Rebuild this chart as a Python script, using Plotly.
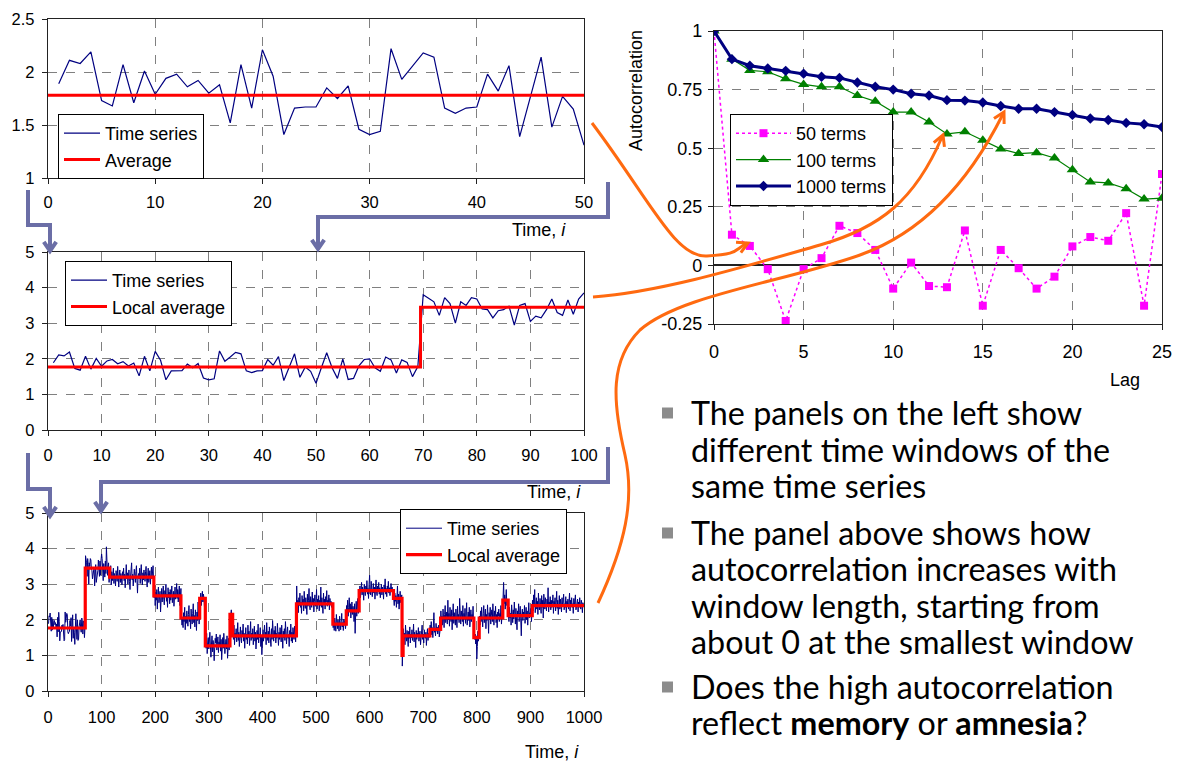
import math
import plotly.graph_objects as go

W, H = 1179, 761

# ---- time series, i = 1 .. 1000 ----
series = [
    1.89, 2.11, 2.08, 2.19, 1.73, 1.68, 2.07, 1.71, 2.01, 1.79,
    1.94, 1.98, 1.86, 1.92, 1.80, 1.88, 1.52, 2.07, 1.66, 2.21,
    1.96, 1.41, 1.66, 1.67, 1.67, 1.85, 1.75, 1.87, 1.46, 1.41,
    1.44, 2.22, 1.93, 2.05, 2.18, 2.14, 1.66, 1.61, 1.66, 1.67,
    1.98, 1.82, 2.06, 1.39, 1.77, 2.14, 1.48, 1.77, 1.65, 1.31,
    1.75, 2.17, 1.75, 1.45, 2.00, 1.42, 1.45, 1.80, 1.98, 2.00,
    1.75, 1.65, 2.05, 1.97, 1.60, 1.97, 1.90, 1.50, 1.78, 3.80,
    3.70, 3.60, 3.22, 3.72, 3.55, 3.00, 3.60, 3.50, 3.72, 3.68,
    3.40, 3.38, 3.15, 3.35, 3.38, 3.48, 2.95, 3.50, 3.55, 3.05,
    3.20, 3.15, 3.38, 3.68, 3.30, 3.22, 3.65, 3.25, 3.68, 3.85,
    3.72, 3.35, 3.10, 3.58, 3.42, 3.20, 3.65, 3.30, 4.05, 3.55,
    3.25, 3.48, 3.60, 3.05, 3.40, 3.25, 3.52, 2.98, 3.35, 3.10,
    3.28, 3.45, 3.02, 3.30, 3.15, 2.95, 3.38, 3.20, 3.08, 3.50,
    3.12, 2.92, 3.25, 3.40, 3.05, 3.30, 3.18, 2.98, 3.35, 3.22,
    3.45, 3.10, 3.28, 2.90, 3.20, 3.55, 3.15, 3.32, 3.00, 3.25,
    3.40, 3.08, 2.85, 3.22, 3.38, 3.60, 3.12, 3.28, 2.95, 3.18,
    3.42, 3.25, 3.05, 3.35, 3.52, 3.10, 2.75, 3.20, 3.30, 3.15,
    3.45, 3.02, 3.28, 3.55, 3.18, 2.98, 3.32, 3.12, 3.40, 3.25,
    3.08, 3.35, 3.50, 3.15, 2.92, 3.25, 3.45, 3.05, 3.30, 3.38,
    3.00, 3.22, 3.48, 3.15, 3.28, 3.52, 3.10, 2.62, 2.95, 2.40,
    2.78, 2.55, 2.85, 2.30, 2.70, 2.92, 2.48, 2.65, 2.80, 2.22,
    2.60, 2.88, 2.50, 2.75, 2.95, 2.58, 2.42, 2.82, 2.68, 3.00,
    2.52, 2.72, 2.35, 2.90, 2.62, 2.78, 2.45, 2.85, 2.55, 2.70,
    2.95, 2.48, 2.65, 2.80, 2.38, 2.72, 2.92, 2.58, 2.68, 3.02,
    2.60, 2.85, 2.50, 2.75, 2.95, 2.40, 2.70, 2.88, 2.10, 1.85,
    2.05, 1.78, 2.20, 1.95, 2.35, 1.72, 2.10, 1.90, 2.25, 2.00,
    1.82, 2.15, 2.40, 1.95, 2.08, 1.75, 2.30, 2.02, 1.88, 2.18,
    2.45, 1.92, 2.12, 1.80, 2.28, 2.05, 1.70, 2.22, 1.98, 2.50,
    2.10, 1.88, 2.25, 2.55, 2.75, 2.40, 2.68, 2.80, 2.50, 2.72,
    2.60, 2.35, 2.62, 1.45, 1.20, 1.62, 1.05, 1.35, 1.50, 1.18,
    1.40, 1.65, 1.25, 0.95, 1.32, 1.55, 1.10, 1.42, 1.28, 0.85,
    1.22, 1.48, 1.35, 1.60, 1.15, 1.30, 1.52, 1.08, 1.38, 1.25,
    1.58, 1.12, 1.45, 0.88, 1.30, 1.50, 1.20, 1.62, 1.35, 1.05,
    1.28, 1.45, 1.18, 1.55, 0.92, 1.32, 1.48, 1.15, 1.40, 2.05,
    2.20, 2.28, 2.12, 2.10, 1.70, 1.45, 1.85, 1.30, 1.62, 1.50,
    1.75, 1.38, 1.58, 1.92, 1.42, 1.65, 1.25, 1.55, 1.80, 1.48,
    1.35, 1.70, 1.52, 1.88, 1.40, 1.62, 1.20, 1.55, 1.78, 1.45,
    1.60, 1.32, 1.85, 1.50, 1.68, 1.28, 1.58, 1.95, 1.42, 1.62,
    1.48, 1.75, 1.30, 1.55, 1.82, 1.40, 1.65, 1.18, 1.52, 1.70,
    1.45, 1.88, 1.35, 1.60, 1.50, 1.78, 1.25, 1.55, 1.02, 1.62,
    1.72, 1.40, 1.58, 1.85, 1.48, 1.65, 1.30, 1.92, 1.55, 1.42,
    1.68, 1.35, 1.80, 1.52, 1.60, 1.25, 1.75, 1.45, 1.98, 1.58,
    1.40, 1.70, 1.50, 1.82, 1.35, 1.62, 1.48, 1.90, 1.55, 1.28,
    1.65, 1.45, 1.78, 1.52, 1.38, 1.85, 1.58, 1.20, 1.68, 1.50,
    1.75, 1.42, 1.95, 1.55, 1.32, 1.62, 1.80, 1.48, 1.58, 1.25,
    1.70, 1.52, 1.88, 1.40, 1.65, 1.35, 1.78, 1.55, 1.45, 1.82,
    1.60, 1.38, 1.72, 2.95, 2.30, 2.55, 2.20, 2.62, 2.40, 2.75,
    2.35, 2.50, 2.18, 2.68, 2.42, 2.58, 2.25, 2.80, 2.45, 2.32,
    2.62, 2.48, 2.15, 2.72, 2.38, 2.55, 2.88, 2.40, 2.28, 2.65,
    2.50, 2.35, 2.78, 2.42, 2.60, 2.22, 2.52, 2.70, 2.38, 2.48,
    2.85, 2.30, 2.58, 2.45, 2.68, 2.25, 2.55, 2.40, 2.92, 2.35,
    2.62, 2.48, 2.18, 2.75, 2.42, 2.58, 2.30, 2.65, 2.50, 2.82,
    2.38, 2.55, 2.45, 2.70, 2.28, 2.60, 2.42, 2.52, 2.35, 2.48,
    2.40, 1.78, 1.95, 1.70, 2.05, 1.85, 1.68, 2.15, 1.90, 1.75,
    2.00, 1.82, 1.68, 2.10, 1.88, 1.72, 1.95, 2.18, 1.80, 1.92,
    1.70, 2.02, 1.85, 1.98, 1.75, 1.90, 2.40, 2.20, 2.55, 2.10,
    2.35, 2.62, 2.25, 2.45, 2.05, 2.30, 2.50, 2.15, 2.38, 2.28,
    1.95, 2.45, 1.62, 2.20, 2.52, 2.10, 2.35, 2.60, 2.18, 2.40,
    2.75, 2.95, 2.62, 2.88, 3.05, 2.70, 2.92, 2.80, 2.55, 3.00,
    2.85, 2.68, 2.95, 2.78, 3.10, 2.72, 2.88, 2.60, 2.98, 3.25,
    2.82, 2.70, 3.08, 2.90, 2.65, 2.85, 3.02, 2.75, 2.92, 2.58,
    2.88, 3.12, 2.78, 2.68, 2.95, 2.82, 3.05, 2.72, 2.90, 2.62,
    2.80, 3.00, 2.70, 2.92, 2.85, 2.58, 2.98, 2.78, 3.15, 2.72,
    2.88, 2.65, 2.95, 2.82, 3.08, 2.75, 2.90, 2.68, 2.85, 3.02,
    2.78, 2.92, 2.70, 2.85, 2.60, 2.40, 2.75, 2.52, 2.68, 2.35,
    2.62, 2.95, 2.45, 2.72, 2.30, 2.58, 2.80, 2.48, 2.65, 2.70,
    0.70, 1.30, 1.75, 1.45, 1.62, 1.30, 1.85, 1.52, 1.40, 1.70,
    1.55, 1.25, 1.68, 1.48, 1.80, 1.35, 1.60, 1.50, 1.72, 1.42,
    1.58, 1.88, 1.38, 1.65, 1.52, 1.22, 1.70, 1.45, 1.62, 1.55,
    1.78, 1.40, 1.58, 1.68, 1.30, 1.62, 1.50, 1.85, 1.45, 1.60,
    1.35, 1.72, 1.55, 1.48, 1.65, 1.28, 1.58, 1.75, 1.42, 1.62,
    1.50, 1.68, 1.85, 1.62, 1.95, 1.58, 1.78, 1.50, 1.82, 2.20,
    1.65, 1.72, 1.55, 1.90, 1.68, 1.80, 1.60, 1.75, 1.85, 1.52,
    1.70, 1.78, 2.25, 1.95, 2.10, 1.85, 2.30, 2.02, 1.78, 2.15,
    2.40, 1.92, 2.08, 2.22, 1.88, 2.55, 2.00, 2.18, 1.82, 2.35,
    2.05, 1.95, 2.28, 1.72, 2.12, 2.45, 1.90, 2.20, 2.02, 1.85,
    2.30, 2.10, 1.78, 2.38, 2.00, 2.15, 1.92, 2.60, 2.05, 1.88,
    2.25, 2.08, 1.95, 2.40, 1.82, 2.18, 2.02, 2.32, 1.90, 2.12,
    2.48, 1.85, 2.05, 2.22, 1.98, 2.35, 1.80, 2.10, 2.28, 1.95,
    2.15, 2.02, 2.38, 1.90, 1.70, 1.45, 1.60, 1.32, 1.55, 0.90,
    1.25, 1.68, 1.40, 1.75, 2.10, 1.85, 2.25, 1.95, 2.35, 2.02,
    1.80, 2.18, 2.40, 1.92, 2.08, 2.30, 1.75, 2.15, 1.98, 2.42,
    2.05, 1.62, 2.20, 2.00, 2.35, 1.88, 2.12, 2.28, 1.95, 2.45,
    2.08, 1.85, 2.25, 2.02, 2.38, 1.92, 2.15, 1.78, 2.22, 2.10,
    2.30, 1.95, 2.18, 2.05, 2.40, 1.88, 2.12, 2.25, 2.60, 3.05,
    2.45, 2.70, 2.30, 2.62, 2.85, 2.40, 2.55, 2.35, 2.20, 1.95,
    2.35, 2.05, 2.18, 1.85, 2.42, 2.10, 1.92, 2.28, 2.02, 2.50,
    2.15, 1.88, 2.32, 2.00, 1.72, 2.25, 2.08, 2.45, 1.95, 2.20,
    2.38, 2.02, 1.55, 2.15, 2.30, 1.98, 2.22, 2.10, 2.40, 1.90,
    2.12, 2.35, 2.00, 2.25, 1.85, 2.18, 2.48, 2.05, 2.20, 2.10,
    2.32, 1.95, 2.15, 2.55, 2.25, 2.70, 2.38, 2.85, 2.20, 2.48,
    2.62, 2.30, 2.52, 2.15, 2.75, 2.40, 2.28, 2.60, 2.45, 2.18,
    2.68, 2.35, 2.55, 2.05, 2.72, 2.42, 2.30, 2.62, 2.48, 2.25,
    2.58, 2.38, 2.90, 2.22, 2.50, 2.42, 2.65, 2.28, 2.55, 2.35,
    2.45, 2.70, 2.18, 2.52, 2.40, 2.62, 2.25, 2.48, 2.80, 2.32,
    2.55, 2.15, 2.42, 2.68, 2.30, 2.58, 2.45, 2.22, 2.62, 2.38,
    2.50, 2.72, 2.28, 2.45, 2.35, 2.65, 2.20, 2.52, 2.40, 2.58,
    2.30, 2.48, 2.75, 2.25, 2.55, 2.42, 2.62, 2.35, 2.45, 2.18,
    2.60, 2.38, 2.52, 2.70, 2.28, 2.45, 2.40, 2.58, 2.22, 2.50,
    2.35, 2.62, 2.42, 2.30, 2.55, 2.45, 2.20, 2.48, 2.38, 2.40,
]
time_idx = list(range(1, len(series) + 1))

# average of the first 50 terms
window50_average = 1.78

# piecewise-constant local average (segment starts and levels)
step_starts = [0, 69.5, 115, 197.5, 248, 283, 293.5, 339.5, 344.5, 463.5, 531.5,
               556.5, 580.5, 644.5, 660.5, 662.5, 712.5, 732.5, 794.5, 804.5,
               848.5, 858.5, 903.5, 1000]
step_levels = [1.77, 3.45, 3.20, 2.67, 2.05, 2.60, 1.27, 2.15, 1.55, 2.45, 1.88,
               2.25, 2.82, 2.60, 1.00, 1.55, 1.73, 2.05, 1.50, 2.05,
               2.55, 2.12, 2.40, 2.40]

# autocorrelation vs lag
lags = list(range(26))
acf_50 = [1.0, 0.131, 0.083, -0.016, -0.237, -0.016, 0.031, 0.169, 0.138, 0.066,
          -0.099, 0.012, -0.088, -0.093, 0.149, -0.172, 0.066, -0.012, -0.099, -0.048,
          0.081, 0.121, 0.105, 0.223, -0.172, 0.39]
acf_100 = [1.0, 0.88, 0.832, 0.826, 0.796, 0.772, 0.762, 0.762, 0.725, 0.70,
           0.654, 0.654, 0.612, 0.561, 0.57, 0.534, 0.497, 0.477, 0.481, 0.458,
           0.408, 0.356, 0.352, 0.327, 0.283, 0.287]
acf_1000 = [1.0, 0.88, 0.852, 0.84, 0.83, 0.818, 0.805, 0.80, 0.78, 0.762,
            0.75, 0.732, 0.725, 0.705, 0.703, 0.695, 0.68, 0.668, 0.668, 0.654,
            0.642, 0.627, 0.62, 0.608, 0.602, 0.59]
acf_ticks = [-0.25, 0, 0.25, 0.5, 0.75, 1]
acf_tick_text = ["-0.25", "0", "0.25", "0.5", "0.75", "1"]

NAVY = "#000080"
RED = "#FF0000"
FONT = "Liberation Sans"


def px(x, y):
    return f"{x / W:.5f},{1 - y / H:.5f}"


def dom_x(a, b):
    return [a / W, b / W]


def dom_y(top, bottom):
    return [1 - bottom / H, 1 - top / H]


fig = go.Figure()

# panel 1: first 50 points
fig.add_trace(go.Scatter(x=time_idx[:50], y=series[:50], mode="lines", name="Time series",
                         line=dict(color=NAVY, width=1.2), xaxis="x", yaxis="y", legend="legend"))
fig.add_trace(go.Scatter(x=[0, 50], y=[window50_average] * 2, mode="lines", name="Average",
                         line=dict(color=RED, width=3), xaxis="x", yaxis="y", legend="legend"))

# panel 2: first 100 points
fig.add_trace(go.Scatter(x=time_idx[:100], y=series[:100], mode="lines", name="Time series",
                         line=dict(color=NAVY, width=1.2), xaxis="x2", yaxis="y2", legend="legend2"))
fig.add_trace(go.Scatter(x=step_starts, y=step_levels, mode="lines", name="Local average",
                         line=dict(color=RED, width=3, shape="hv"), xaxis="x2", yaxis="y2",
                         legend="legend2"))

# panel 3: all 1000 points
fig.add_trace(go.Scatter(x=time_idx, y=series, mode="lines", name="Time series",
                         line=dict(color=NAVY, width=1), xaxis="x3", yaxis="y3", legend="legend3"))
fig.add_trace(go.Scatter(x=step_starts, y=step_levels, mode="lines", name="Local average",
                         line=dict(color=RED, width=3.2, shape="hv"), xaxis="x3", yaxis="y3",
                         legend="legend3"))

# panel 4: autocorrelation
fig.add_trace(go.Scatter(x=lags, y=acf_50, mode="lines+markers", name="50 terms",
                         line=dict(color="#FF00FF", width=1.5, dash="dot"),
                         marker=dict(symbol="square", size=8, color="#FF00FF"),
                         xaxis="x4", yaxis="y4", legend="legend4"))
fig.add_trace(go.Scatter(x=lags, y=acf_100, mode="lines+markers", name="100 terms",
                         line=dict(color="#008000", width=1.2),
                         marker=dict(symbol="triangle-up", size=10, color="#008000"),
                         xaxis="x4", yaxis="y4", legend="legend4"))
fig.add_trace(go.Scatter(x=lags, y=acf_1000, mode="lines+markers", name="1000 terms",
                         line=dict(color=NAVY, width=3),
                         marker=dict(symbol="diamond", size=8, color=NAVY),
                         xaxis="x4", yaxis="y4", legend="legend4"))

axis_common = dict(showline=True, linecolor="#222222", linewidth=1.3, mirror=True,
                   ticks="outside", ticklen=5, tickcolor="#222222", automargin=False,
                   showgrid=True, gridcolor="#808080", griddash="dash", gridwidth=1,
                   zeroline=False, tickfont=dict(size=16.5, color="black", family=FONT))
acf_axis = dict(axis_common, tickfont=dict(size=18, color="black", family=FONT))

left_x = dom_x(48, 584)
fig.update_layout(
    xaxis=dict(axis_common, domain=left_x, range=[0, 50], dtick=10, anchor="y",
               ticklabelstandoff=4),
    yaxis=dict(axis_common, domain=dom_y(19, 178), range=[1, 2.5], dtick=0.5, anchor="x",
               ticklabelstandoff=4),
    xaxis2=dict(axis_common, domain=left_x, range=[0, 100], dtick=10, anchor="y2",
                ticklabelstandoff=5),
    yaxis2=dict(axis_common, domain=dom_y(252, 430), range=[0, 5], dtick=1, anchor="x2",
                ticklabelstandoff=4),
    xaxis3=dict(axis_common, domain=left_x, range=[0, 1000], dtick=100, anchor="y3",
                ticklabelstandoff=6),
    yaxis3=dict(axis_common, domain=dom_y(513, 691), range=[0, 5], dtick=1, anchor="x3",
                ticklabelstandoff=4),
    xaxis4=dict(acf_axis, domain=dom_x(714, 1162), range=[0, 25], dtick=5, anchor="y4",
                ticklabelstandoff=6),
    yaxis4=dict(acf_axis, domain=dom_y(31, 324), range=[-0.25, 1],
                tickvals=acf_ticks, ticktext=acf_tick_text, anchor="x4",
                ticklabelstandoff=2,
                zeroline=True, zerolinecolor="#222222", zerolinewidth=1.5),
)

legend_common = dict(bgcolor="white", bordercolor="black", borderwidth=1,
                     font=dict(size=18, color="black", family=FONT),
                     xanchor="left", yanchor="top", itemwidth=36, tracegroupgap=0)
fig.update_layout(
    legend=dict(legend_common, x=58 / W, y=1 - 114 / H),
    legend2=dict(legend_common, x=65 / W, y=1 - 261 / H),
    legend3=dict(legend_common, x=400 / W, y=1 - 509 / H),
    legend4=dict(legend_common, x=730 / W, y=1 - 114 / H, itemwidth=55),
)

annotations = []


def label(text, x, y, size=16, xanchor="center", angle=0, family=FONT):
    annotations.append(dict(text=text, x=x / W, y=1 - y / H, xref="paper", yref="paper",
                            xanchor=xanchor, yanchor="middle", showarrow=False,
                            textangle=angle, font=dict(size=size, color="black", family=family)))


label("Time, <i>i</i>", 568, 230, size=18, xanchor="right")
label("Time, <i>i</i>", 583, 492, size=18, xanchor="right")
label("Time, <i>i</i>", 581, 752, size=18, xanchor="right")
label("Lag", 1125, 380, size=18)
label("Autocorrelation", 636, 91, size=18, angle=-90)

bullet_lines = [
    ("The panels on the left show", 412),
    ("different time windows of the", 449),
    ("same time series", 485),
    ("The panel above shows how", 532),
    ("autocorrelation increases with", 568),
    ("window length, starting from", 605),
    ("about 0 at the smallest window", 641),
    ("Does the high autocorrelation", 686),
    ("reflect <b>memory</b> or <b>amnesia</b>?", 722),
]
for text, y in bullet_lines:
    label(text, 689, y, size=32.3, xanchor="left", family="Lato")

fig.update_layout(annotations=annotations)

shapes = []

# bullet squares
for yb in (413, 533, 687):
    shapes.append(dict(type="rect", xref="paper", yref="paper",
                       x0=662 / W, x1=673 / W, y0=1 - (yb + 5.5) / H, y1=1 - (yb - 5.5) / H,
                       fillcolor="#8c8c8c", line=dict(width=0), layer="above"))


def path_shape(d, color, width):
    shapes.append(dict(type="path", path=d, xref="paper", yref="paper",
                       line=dict(color=color, width=width), layer="above"))


def chevron(tip, frm, length=12, spread=0.5):
    dx, dy = tip[0] - frm[0], tip[1] - frm[1]
    n = math.hypot(dx, dy)
    ux, uy = dx / n, dy / n
    pts = []
    for s in (spread, -spread):
        c, sn = math.cos(s), math.sin(s)
        bx, by = -(ux * c - uy * sn), -(ux * sn + uy * c)
        pts.append((tip[0] + length * bx, tip[1] + length * by))
    return f"M {px(*pts[0])} L {px(*tip)} L {px(*pts[1])}"


# slate bracket arrows between the left panels
SLATE = "#6B6EA6"
for pts in (
    [(28, 190), (28, 225), (50, 225), (50, 251)],
    [(608, 182), (608, 217), (318, 217), (318, 249)],
    [(28, 453), (28, 489), (50, 489), (50, 516)],
    [(608, 447), (608, 482), (101, 482), (101, 511)],
):
    d = "M " + " L ".join(px(*p) for p in pts)
    path_shape(d, SLATE, 4)
    path_shape(chevron(pts[-1], pts[-2], length=11, spread=0.6), SLATE, 4)

# orange connector curves
ORANGE = "#FF6A10"
path_shape(f"M {px(592,123)} C {px(650,200)} {px(675,258)} {px(707,256)} "
           f"S {px(733,251)} {px(747,243)}", ORANGE, 3)
path_shape(chevron((748, 243), (735, 249)), ORANGE, 3)

path_shape(f"M {px(593,297)} C {px(660,292)} {px(740,268)} {px(820,245)} "
           f"C {px(880,228)} {px(915,200)} {px(942,137)}", ORANGE, 3)
path_shape(chevron((943, 135), (937, 150)), ORANGE, 3)

path_shape(f"M {px(598,603)} C {px(625,545)} {px(635,500)} {px(625,455)} "
           f"C {px(612,400)} {px(610,360)} {px(640,330)} "
           f"C {px(680,295)} {px(780,283)} {px(860,255)} "
           f"C {px(930,230)} {px(975,170)} {px(1003,114)}", ORANGE, 3)
path_shape(chevron((1004, 112), (996, 127)), ORANGE, 3)

fig.update_layout(shapes=shapes)

fig.update_layout(width=W, height=H, margin=dict(l=0, r=0, t=0, b=0, autoexpand=False),
                  paper_bgcolor="white", plot_bgcolor="white",
                  font=dict(family=FONT, color="black"))

fig.write_html("out.html")
